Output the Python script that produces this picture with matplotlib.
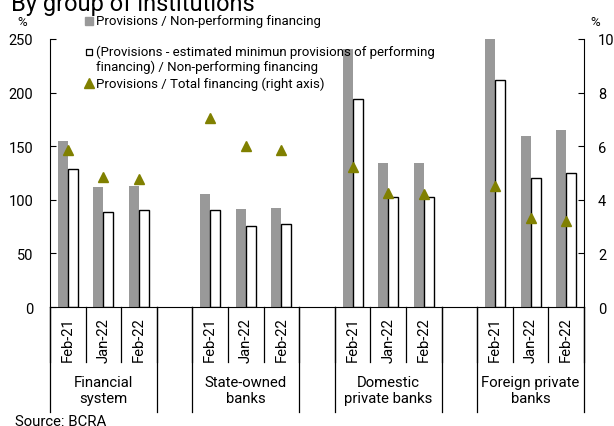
import numpy as np
import matplotlib
matplotlib.use("Agg")
from matplotlib import pyplot as plt
from matplotlib.lines import Line2D

plt.rcParams["font.family"] = ["Roboto", "DejaVu Sans"]

GROUPS = ["Financial\nsystem", "State-owned\nbanks", "Domestic\nprivate banks", "Foreign private\nbanks"]
DATES = ["Feb-21", "Jan-22", "Feb-22"]

# left axis (%)
prov_npf = [155.2, 112.1, 113.3, 105.3, 91.6, 92.5, 240.7, 134.4, 134.4, 250.0, 159.3, 164.9]
prov_adj_npf = [128.6, 88.8, 90.4, 90.4, 76.0, 77.0, 194.0, 102.8, 102.8, 212.1, 120.2, 125.1]
# right axis (%)
prov_total = [5.84, 4.84, 4.77, 7.06, 6.0, 5.86, 5.24, 4.26, 4.20, 4.50, 3.32, 3.22]

GREY = "#999999"
OLIVE = "#808000"

# slot positions: 3 bars per group, one empty slot between groups
pos = []
for g in range(len(GROUPS)):
    for d in range(len(DATES)):
        pos.append(g * (len(DATES) + 1) + d)
pos = np.array(pos)
n_slots = len(GROUPS) * (len(DATES) + 1) - 1

fig = plt.figure(figsize=(6.14, 4.27), dpi=100)
W, H = 614, 427
ax = fig.add_axes([50 / W, 1 - 308 / H, 534 / W, 268 / H])
ax2 = ax.twinx()

bw = 0.28
ax.bar(pos - bw / 2, prov_npf, width=bw, color=GREY, zorder=2)
ax.bar(pos + bw / 2, prov_adj_npf, width=bw, color="white", edgecolor="black", linewidth=1.0, zorder=2)
ax2.plot(pos, prov_total, linestyle="none", marker="^", markersize=7.5, color=OLIVE, zorder=3)

ax.set_xlim(-0.5, n_slots - 0.5)
ax.set_ylim(0, 250)
ax2.set_ylim(0, 10)
ax.set_yticks(np.arange(0, 251, 50))
ax2.set_yticks(np.arange(0, 11, 2))

for a in (ax, ax2):
    a.spines["top"].set_visible(False)
ax.spines["right"].set_visible(False)
ax2.spines["left"].set_visible(False)
ax2.spines["bottom"].set_visible(False)
ax.tick_params(axis="y", direction="in", length=4, labelsize=10.5, pad=12)
ax2.tick_params(axis="y", direction="in", length=4, labelsize=10.5, pad=10)

ax.set_xticks(pos)
ax.set_xticklabels(DATES * len(GROUPS), rotation=90, fontsize=10.7)
ax.tick_params(axis="x", length=0, pad=7)

# category separators
tr = ax.get_xaxis_transform()
for b in np.arange(-0.5, n_slots, 1.0):
    ax.plot([b, b], [0, -55 / 268], transform=tr, color="black", lw=0.9, clip_on=False)
for g in range(len(GROUPS)):
    left = g * (len(DATES) + 1) - 0.5
    right = left + len(DATES)
    for b in (left, right):
        ax.plot([b, b], [0, -105 / 268], transform=tr, color="black", lw=0.9, clip_on=False)
    ax.text(left + len(DATES) / 2, -83 / 268, GROUPS[g], transform=tr, ha="center", va="center",
            fontsize=10.7, linespacing=1.2)

fig.text(22 / W, 1 - 22 / H, "%", ha="center", va="center", fontsize=9.5)
fig.text(595 / W, 1 - 22 / H, "%", ha="center", va="center", fontsize=9.5)
fig.text(15 / W, 1 - 422 / H, "Source: BCRA", ha="left", va="center", fontsize=10.7)
fig.text(11 / W, 1 - 11 / H, "By group of institutions", ha="left", va="baseline", fontsize=17)

# legend, placed by hand
fs = 9.5
fig.add_artist(Line2D([89 / W], [1 - 21.5 / H], marker="s", markersize=6, color=GREY, linestyle="none"))
fig.text(96 / W, 1 - 21.5 / H, "Provisions / Non-performing financing", ha="left", va="center", fontsize=fs)
fig.add_artist(Line2D([88.5 / W], [1 - 52.5 / H], marker="s", markersize=5, markerfacecolor="white",
                      markeredgecolor="black", markeredgewidth=0.9, linestyle="none"))
fig.text(96 / W, 1 - 52 / H, "(Provisions - estimated minimun provisions of performing", ha="left", va="center", fontsize=fs)
fig.text(96 / W, 1 - 67.5 / H, "financing) / Non-performing financing", ha="left", va="center", fontsize=fs)
fig.add_artist(Line2D([89 / W], [1 - 84 / H], marker="^", markersize=6.5, color=OLIVE, linestyle="none"))
fig.text(96 / W, 1 - 84 / H, "Provisions / Total financing (right axis)", ha="left", va="center", fontsize=fs)

fig.savefig("out.png", dpi=100)
